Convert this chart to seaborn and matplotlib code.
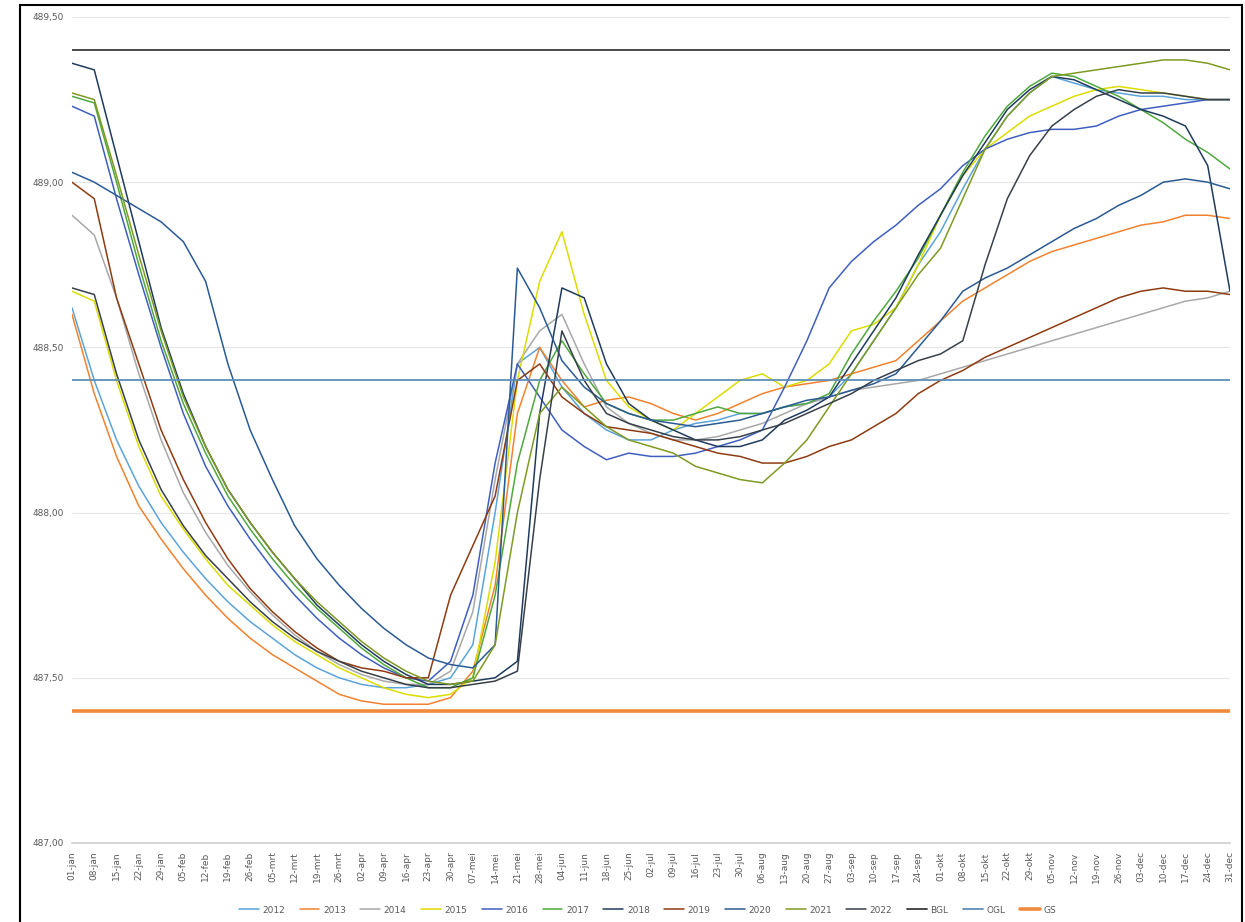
import matplotlib
matplotlib.use("Agg")
import matplotlib.pyplot as plt
import matplotlib.patches as mpatches
import seaborn as sns
import pandas as pd

# ---------------- data ----------------
tick_labels = ["01-jan", "08-jan", "15-jan", "22-jan", "29-jan", "05-feb", "12-feb", "19-feb",
               "26-feb", "05-mrt", "12-mrt", "19-mrt", "26-mrt", "02-apr", "09-apr", "16-apr",
               "23-apr", "30-apr", "07-mei", "14-mei", "21-mei", "28-mei", "04-jun", "11-jun",
               "18-jun", "25-jun", "02-jul", "09-jul", "16-jul", "23-jul", "30-jul", "06-aug",
               "13-aug", "20-aug", "27-aug", "03-sep", "10-sep", "17-sep", "24-sep", "01-okt",
               "08-okt", "15-okt", "22-okt", "29-okt", "05-nov", "12-nov", "19-nov", "26-nov",
               "03-dec", "10-dec", "17-dec", "24-dec", "31-dec"]

y2012 = [488.62, 488.40, 488.22, 488.08, 487.97, 487.88, 487.80, 487.73, 487.67, 487.62, 487.57,
         487.53, 487.50, 487.48, 487.47, 487.47, 487.48, 487.50, 487.60, 488.00, 488.45, 488.50,
         488.38, 488.30, 488.25, 488.22, 488.22, 488.25, 488.27, 488.28, 488.30, 488.30, 488.32,
         488.33, 488.35, 488.42, 488.52, 488.62, 488.75, 488.85, 488.98, 489.10, 489.20, 489.27,
         489.32, 489.30, 489.28, 489.27, 489.26, 489.26, 489.25, 489.25, 489.25]
y2013 = [488.60, 488.36, 488.17, 488.02, 487.92, 487.83, 487.75, 487.68, 487.62, 487.57, 487.53,
         487.49, 487.45, 487.43, 487.42, 487.42, 487.42, 487.44, 487.52, 487.78, 488.30, 488.50,
         488.40, 488.32, 488.34, 488.35, 488.33, 488.30, 488.28, 488.30, 488.33, 488.36, 488.38,
         488.39, 488.40, 488.42, 488.44, 488.46, 488.52, 488.58, 488.64, 488.68, 488.72, 488.76,
         488.79, 488.81, 488.83, 488.85, 488.87, 488.88, 488.90, 488.90, 488.89]
y2014 = [488.90, 488.84, 488.65, 488.42, 488.22, 488.06, 487.94, 487.84, 487.76, 487.69, 487.63,
         487.58, 487.54, 487.51, 487.49, 487.48, 487.48, 487.52, 487.70, 488.10, 488.45, 488.55,
         488.60, 488.45, 488.32, 488.27, 488.24, 488.22, 488.22, 488.23, 488.25, 488.27, 488.30,
         488.33, 488.35, 488.37, 488.38, 488.39, 488.40, 488.42, 488.44, 488.46, 488.48, 488.50,
         488.52, 488.54, 488.56, 488.58, 488.60, 488.62, 488.64, 488.65, 488.67]
y2015 = [488.67, 488.64, 488.40, 488.20, 488.05, 487.95, 487.86, 487.78, 487.72, 487.66, 487.61,
         487.57, 487.53, 487.50, 487.47, 487.45, 487.44, 487.45, 487.50, 487.85, 488.40, 488.70,
         488.85, 488.60, 488.40, 488.32, 488.28, 488.25, 488.30, 488.35, 488.40, 488.42, 488.38,
         488.40, 488.45, 488.55, 488.57, 488.62, 488.75, 488.90, 489.02, 489.10, 489.15, 489.20,
         489.23, 489.26, 489.28, 489.29, 489.28, 489.27, 489.26, 489.25, 489.25]
y2016 = [489.23, 489.20, 488.95, 488.72, 488.50, 488.30, 488.14, 488.02, 487.92, 487.83, 487.75,
         487.68, 487.62, 487.57, 487.53, 487.50, 487.49, 487.55, 487.75, 488.15, 488.45, 488.35,
         488.25, 488.20, 488.16, 488.18, 488.17, 488.17, 488.18, 488.20, 488.22, 488.25, 488.38,
         488.52, 488.68, 488.76, 488.82, 488.87, 488.93, 488.98, 489.05, 489.10, 489.13, 489.15,
         489.16, 489.16, 489.17, 489.20, 489.22, 489.23, 489.24, 489.25, 489.25]
y2017 = [489.26, 489.24, 489.00, 488.75, 488.52, 488.33, 488.18, 488.05, 487.95, 487.86, 487.78,
         487.71, 487.65, 487.59, 487.54, 487.50, 487.47, 487.47, 487.50, 487.75, 488.15, 488.40,
         488.52, 488.42, 488.33, 488.30, 488.28, 488.28, 488.30, 488.32, 488.30, 488.30, 488.32,
         488.33, 488.36, 488.48, 488.58, 488.67, 488.77, 488.90, 489.03, 489.14, 489.23, 489.29,
         489.33, 489.32, 489.29, 489.26, 489.22, 489.18, 489.13, 489.09, 489.04]
y2018 = [489.36, 489.34, 489.08, 488.82, 488.56, 488.36, 488.20, 488.07, 487.97, 487.88, 487.80,
         487.72, 487.66, 487.60, 487.55, 487.51, 487.48, 487.48, 487.49, 487.50, 487.55, 488.30,
         488.68, 488.65, 488.45, 488.33, 488.28, 488.25, 488.22, 488.20, 488.20, 488.22, 488.28,
         488.31, 488.35, 488.45, 488.55, 488.65, 488.78, 488.90, 489.02, 489.12, 489.22, 489.28,
         489.32, 489.31, 489.28, 489.25, 489.22, 489.20, 489.17, 489.05, 488.67]
y2019 = [489.00, 488.95, 488.65, 488.45, 488.25, 488.10, 487.97, 487.86, 487.77, 487.70, 487.64,
         487.59, 487.55, 487.53, 487.52, 487.50, 487.50, 487.75, 487.90, 488.05, 488.40, 488.45,
         488.35, 488.30, 488.26, 488.25, 488.24, 488.22, 488.20, 488.18, 488.17, 488.15, 488.15,
         488.17, 488.20, 488.22, 488.26, 488.30, 488.36, 488.40, 488.43, 488.47, 488.50, 488.53,
         488.56, 488.59, 488.62, 488.65, 488.67, 488.68, 488.67, 488.67, 488.66]
y2020 = [489.03, 489.00, 488.96, 488.92, 488.88, 488.82, 488.70, 488.45, 488.25, 488.10, 487.96,
         487.86, 487.78, 487.71, 487.65, 487.60, 487.56, 487.54, 487.53, 487.60, 488.74, 488.62,
         488.46, 488.38, 488.33, 488.30, 488.28, 488.27, 488.26, 488.27, 488.28, 488.30, 488.32,
         488.34, 488.35, 488.37, 488.39, 488.42, 488.50, 488.58, 488.67, 488.71, 488.74, 488.78,
         488.82, 488.86, 488.89, 488.93, 488.96, 489.00, 489.01, 489.00, 488.98]
y2021 = [489.27, 489.25, 489.02, 488.78, 488.55, 488.35, 488.20, 488.07, 487.97, 487.88, 487.80,
         487.73, 487.67, 487.61, 487.56, 487.52, 487.49, 487.48, 487.49, 487.60, 488.00, 488.30,
         488.38, 488.32, 488.26, 488.22, 488.20, 488.18, 488.14, 488.12, 488.10, 488.09, 488.15,
         488.22, 488.32, 488.42, 488.52, 488.62, 488.72, 488.80, 488.95, 489.10, 489.20, 489.27,
         489.32, 489.33, 489.34, 489.35, 489.36, 489.37, 489.37, 489.36, 489.34]
y2022 = [488.68, 488.66, 488.42, 488.22, 488.07, 487.96, 487.87, 487.80, 487.73, 487.67, 487.62,
         487.58, 487.55, 487.52, 487.50, 487.48, 487.47, 487.47, 487.48, 487.49, 487.52, 488.10,
         488.55, 488.40, 488.30, 488.27, 488.25, 488.23, 488.22, 488.22, 488.23, 488.25, 488.27,
         488.30, 488.33, 488.36, 488.40, 488.43, 488.46, 488.48, 488.52, 488.75, 488.95, 489.08,
         489.17, 489.22, 489.26, 489.28, 489.27, 489.27, 489.26, 489.25, 489.25]

years = ["2012", "2013", "2014", "2015", "2016", "2017", "2018", "2019", "2020", "2021", "2022"]
series = [y2012, y2013, y2014, y2015, y2016, y2017, y2018, y2019, y2020, y2021, y2022]

ref_names = ["BGL", "OGL", "GS"]
ref_values = [489.40, 488.40, 487.40]

y_ticks = [487.00, 487.50, 488.00, 488.50, 489.00, 489.50]

# ---------------- styles ----------------
colors = {"2012": "#5BA3D9", "2013": "#F0822F", "2014": "#A8A8A8", "2015": "#DCDC00",
          "2016": "#3F5FBF", "2017": "#4FA83D", "2018": "#1F3B5C", "2019": "#8E3B12",
          "2020": "#2A5A93", "2021": "#7E9A22", "2022": "#37404A"}
ref_colors = ["#3A3A3A", "#5F8FB8", "#F08A3C"]
ref_widths = [1.3, 1.3, 2.6]

days = [7 * i for i in range(len(tick_labels))]

rows = []
for yr, vals in zip(years, series):
    for d, v in zip(days, vals):
        rows.append({"dag": d, "peil": v, "jaar": yr})
df = pd.DataFrame(rows)

sns.set_theme(style="white")
plt.rcParams["font.family"] = ["DejaVu Sans"]

fig = plt.figure(figsize=(12.45, 9.22), dpi=100)
ax = fig.add_axes([72 / 1245, 1 - 843 / 922, (1230 - 72) / 1245, (843 - 17) / 922])

for yv in y_ticks:
    ax.axhline(yv, color="#E6E6E6", lw=0.8, zorder=0)

sns.lineplot(data=df, x="dag", y="peil", hue="jaar", palette=colors, hue_order=years,
             lw=1.1, ax=ax, legend=True, estimator=None, sort=False)

for name, val, c, w in zip(ref_names, ref_values, ref_colors, ref_widths):
    ax.plot([days[0], days[-1]], [val, val], color=c, lw=w, label=name, zorder=3)

ax.set_xlim(days[0], days[-1])
ax.set_ylim(487.0, 489.5)
ax.set_xticks(days)
ax.set_xticklabels(tick_labels, rotation=90, fontsize=6.5, color="#595959")
ax.set_yticks(y_ticks)
ax.set_yticklabels([f"{v:.2f}".replace(".", ",") for v in y_ticks], fontsize=6.5, color="#595959")
ax.tick_params(axis="both", length=0, pad=6)
ax.set_xlabel("")
ax.set_ylabel("")
for s in ["top", "right", "left"]:
    ax.spines[s].set_visible(False)
ax.spines["bottom"].set_color("#D0D0D0")

handles, labels = ax.get_legend_handles_labels()
ax.get_legend().remove()
fig.legend(handles, labels, loc="center", bbox_to_anchor=(0.52, 0.013), ncol=14,
           frameon=False, fontsize=6.5, handlelength=2.2, columnspacing=1.6,
           handletextpad=0.4, labelcolor="#595959")

fig.patches.append(mpatches.Rectangle((20 / 1245, -0.01), (1242 - 20) / 1245, 1 - 5 / 922 + 0.01,
                                      transform=fig.transFigure, fill=False,
                                      edgecolor="black", lw=1.5))

fig.savefig("out.png", dpi=100)
